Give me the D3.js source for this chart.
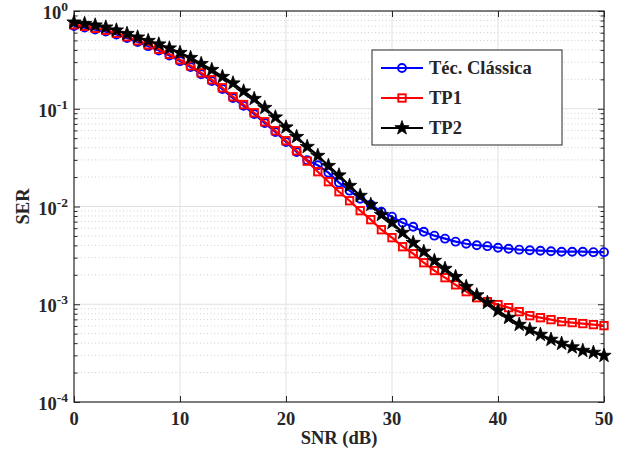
<!DOCTYPE html>
<html>
<head>
<meta charset="utf-8">
<script src="https://cdn.jsdelivr.net/npm/d3@7/dist/d3.min.js"></script>
<style>
  html, body { margin: 0; padding: 0; background: #fff; }
  svg { display: block; }
  text { font-family: "Liberation Serif", "Times New Roman", serif; font-weight: bold; fill: #262626; }
</style>
</head>
<body>
<svg id="chart" width="631" height="453"></svg>
<script>
// ---- data ----
const snr = d3.range(0, 51); // 0..50 dB
const serClassica = [0.701,0.677,0.645,0.616,0.574,0.529,0.481,0.437,0.394,0.350,0.307,0.267,0.226,0.192,0.159,0.1287,0.1071,0.0883,0.0714,0.0578,0.0457,0.0361,
  0.0298,0.0264,0.0222,0.01754,0.01452,0.01202,0.01043,0.00885,0.00787,0.00683,0.00621,0.00552,0.00503,0.00469,0.00437,0.00416,0.00402,0.00393,0.00379,
  0.00370,0.00362,0.00357,0.00353,0.00349,0.00345,0.00345,0.00345,0.00341,0.00341];
const serTP1 = [0.723,0.698,0.665,0.635,0.592,0.545,0.496,0.451,0.406,0.361,0.317,0.275,0.233,0.198,0.164,0.1327,0.1104,0.0910,0.0736,0.0596,0.0471,0.0372,
  0.0291,0.0227,0.01794,0.01416,0.01146,0.00906,0.00733,0.00579,0.00480,0.00388,0.00329,0.00266,0.00221,0.00187,0.00158,0.001345,0.001167,0.001063,0.000991,
  0.000923,0.000840,0.000764,0.000729,0.000696,0.000664,0.000649,0.000634,0.000619,0.000604];
const serTP2 = [0.766,0.740,0.714,0.681,0.635,0.585,0.538,0.496,0.4566,0.4155,0.3737,0.3322,0.2885,0.2505,0.2125,0.1823,0.1510,0.1265,0.1024,0.0818,0.0647,
  0.0517,0.0409,0.0331,0.0261,0.0209,0.01632,0.01290,0.01043,0.00824,0.00683,0.00540,0.00426,0.00345,0.00279,0.00231,0.00191,0.00151,0.001239,0.001038,
  0.000860,0.000729,0.000619,0.000550,0.000489,0.000435,0.000396,0.000364,0.000335,0.000320,0.000298];
const seriesNames = ["Téc. Clássica", "TP1", "TP2"];
const seriesColors = ["#0000ff", "#ff0000", "#000000"];
const seriesMarkers = ["circle", "square", "star"];
const xTicks = [0, 10, 20, 30, 40, 50];
const yTickExps = [-4, -3, -2, -1, 0];
const xLabel = "SNR (dB)";
const yLabel = "SER";

// ---- layout ----
const L = 74, R = 604, T = 11, B = 402;
const svg = d3.select("#chart");
const x = d3.scaleLinear().domain([0, 50]).range([L, R]);
const y = d3.scaleLog().domain([1e-4, 1]).range([B, T]);
const axisColor = "#262626";

// minor grid (dotted) on y
const minorVals = [];
yTickExps.slice(0, -1).forEach(e => { for (let k = 2; k <= 9; k++) minorVals.push(k * Math.pow(10, e)); });
const grid = svg.append("g");
grid.selectAll("line.minor").data(minorVals).enter().append("line")
  .attr("x1", L).attr("x2", R).attr("y1", d => y(d)).attr("y2", d => y(d))
  .attr("stroke", "#c4c4c4").attr("stroke-width", 0.8).attr("stroke-dasharray", "1,2.5");
// major grid
grid.selectAll("line.mx").data(xTicks.slice(1, -1)).enter().append("line")
  .attr("x1", d => x(d)).attr("x2", d => x(d)).attr("y1", T).attr("y2", B)
  .attr("stroke", "#e1e1e1").attr("stroke-width", 1);
grid.selectAll("line.my").data(yTickExps.slice(1, -1)).enter().append("line")
  .attr("x1", L).attr("x2", R).attr("y1", d => y(Math.pow(10, d))).attr("y2", d => y(Math.pow(10, d)))
  .attr("stroke", "#e1e1e1").attr("stroke-width", 1);

// axes via d3 axis (inward ticks)
const yMajor = yTickExps.map(e => Math.pow(10, e));
function addYAxis(gen, xpos) {
  const g = svg.append("g").attr("transform", `translate(${xpos},0)`)
    .call(gen.tickValues(minorVals).tickSize(3.5).tickFormat(""));
  g.select(".domain").remove();
  g.selectAll("line").attr("stroke", axisColor);
  const g2 = svg.append("g").attr("transform", `translate(${xpos},0)`)
    .call(gen.tickValues(yMajor).tickSize(6).tickFormat(""));
  g2.select(".domain").remove();
  g2.selectAll("line").attr("stroke", axisColor);
}
addYAxis(d3.axisRight(y), L);
addYAxis(d3.axisLeft(y), R);
function addXAxis(gen, ypos) {
  const g = svg.append("g").attr("transform", `translate(0,${ypos})`)
    .call(gen.tickValues(xTicks).tickSize(6).tickFormat(""));
  g.select(".domain").remove();
  g.selectAll("line").attr("stroke", axisColor);
}
addXAxis(d3.axisTop(x), B);
addXAxis(d3.axisBottom(x), T);
svg.append("rect").attr("x", L).attr("y", T).attr("width", R - L).attr("height", B - T)
  .attr("fill", "none").attr("stroke", axisColor).attr("stroke-width", 1.2);

// tick labels
svg.append("g").selectAll("text").data(xTicks).enter().append("text")
  .attr("x", d => x(d)).attr("y", B + 23).attr("text-anchor", "middle")
  .style("font-size", "18.5px").text(d => d);
const yl = svg.append("g").selectAll("text").data(yTickExps).enter().append("text")
  .attr("x", L - 6).attr("y", d => y(Math.pow(10, d)) + 8).attr("text-anchor", "end")
  .style("font-size", "18.5px");
yl.append("tspan").text("10");
yl.append("tspan").attr("dy", -8).style("font-size", "13.5px").text(d => d);

// axis labels
svg.append("text").attr("x", (L + R) / 2).attr("y", 444).attr("text-anchor", "middle")
  .style("font-size", "18.5px").text(xLabel);
svg.append("text").attr("transform", `translate(29,${(T + B) / 2}) rotate(-90)`)
  .attr("text-anchor", "middle").style("font-size", "18.5px").text(yLabel);

// markers
const starPath = (() => {
  const ro = 7.5, ri = 3.0; const pts = [];
  for (let k = 0; k < 10; k++) {
    const a = -Math.PI / 2 + k * Math.PI / 5; const r = k % 2 ? ri : ro;
    pts.push([r * Math.cos(a), r * Math.sin(a)]);
  }
  return "M" + pts.map(p => p.join(",")).join("L") + "Z";
})();
function drawMarker(g, type, color) {
  if (type === "circle") g.append("circle").attr("r", 4).attr("fill", "none").attr("stroke", color).attr("stroke-width", 1.9);
  else if (type === "square") g.append("rect").attr("x", -3.7).attr("y", -3.7).attr("width", 7.4).attr("height", 7.4)
    .attr("fill", "none").attr("stroke", color).attr("stroke-width", 1.9);
  else g.append("path").attr("d", starPath).attr("fill", color).attr("stroke", color).attr("stroke-width", 0.8);
}

const allSeries = [serClassica, serTP1, serTP2];
const line = d3.line().x((d, i) => x(snr[i])).y(d => y(d));
const plot = svg.append("g");
allSeries.forEach((vals, s) => {
  const g = plot.append("g");
  g.append("path").datum(vals).attr("d", line).attr("fill", "none")
    .attr("stroke", seriesColors[s]).attr("stroke-width", 2.2);
  vals.forEach((v, i) => {
    const m = g.append("g").attr("transform", `translate(${x(snr[i])},${y(v)})`);
    drawMarker(m, seriesMarkers[s], seriesColors[s]);
  });
});

// legend
const lg = svg.append("g");
lg.append("rect").attr("x", 372).attr("y", 50).attr("width", 190).attr("height", 95)
  .attr("fill", "#fff").attr("stroke", axisColor).attr("stroke-width", 1);
seriesNames.forEach((name, s) => {
  const cy = 68 + s * 30;
  lg.append("line").attr("x1", 381).attr("x2", 423).attr("y1", cy).attr("y2", cy)
    .attr("stroke", seriesColors[s]).attr("stroke-width", 2.2);
  const m = lg.append("g").attr("transform", `translate(402,${cy})`);
  drawMarker(m, seriesMarkers[s], seriesColors[s]);
  lg.append("text").attr("x", 429).attr("y", cy + 6).style("font-size", "18.5px").text(name);
});
</script>
</body>
</html>
